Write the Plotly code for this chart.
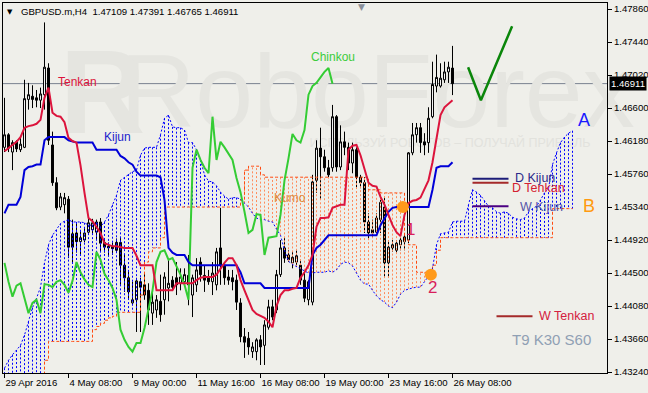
import plotly.graph_objects as go

# ---------------- data ----------------
bars = list(range(113))
open_ = [1.4610, 1.4626, 1.4604, 1.4617, 1.4607, 1.4610, 1.4671, 1.4675, 1.4673, 1.4670,
         1.4677, 1.4711, 1.4613, 1.4565, 1.4534, 1.4537, 1.4544, 1.4500, 1.4501, 1.4490,
         1.4492, 1.4502, 1.4505, 1.4502, 1.4515, 1.4489, 1.4484, 1.4484, 1.4489, 1.4489,
         1.4460, 1.4444, 1.4412, 1.4416, 1.4439, 1.4435, 1.4428, 1.4399, 1.4403, 1.4414,
         1.4416, 1.4431, 1.4441, 1.4444, 1.4437, 1.4439, 1.4447, 1.4422, 1.4435, 1.4464,
         1.4447, 1.4444, 1.4439, 1.4435, 1.4482, 1.4460, 1.4445, 1.4444, 1.4441, 1.4412,
         1.4369, 1.4367, 1.4350, 1.4350, 1.4365, 1.4358, 1.4381, 1.4407, 1.4403, 1.4448,
         1.4482, 1.4473, 1.4463, 1.4464, 1.4460, 1.4441, 1.4416, 1.4413, 1.4568, 1.4609,
         1.4598, 1.4584, 1.4584, 1.4649, 1.4585, 1.4617, 1.4610, 1.4590, 1.4607, 1.4572,
         1.4565, 1.4515, 1.4505, 1.4502, 1.4518, 1.4534, 1.4463, 1.4482, 1.4479, 1.4486,
         1.4490, 1.4492, 1.4603, 1.4626, 1.4635, 1.4617, 1.4616, 1.4649, 1.4688, 1.4688,
         1.4696, 1.4706, 1.47109]
high = [1.4673, 1.4628, 1.4619, 1.4619, 1.4623, 1.4696, 1.4692, 1.4689, 1.4683, 1.4686,
        1.4769, 1.4717, 1.4630, 1.4572, 1.4552, 1.4552, 1.4548, 1.4518, 1.4515, 1.4505,
        1.4507, 1.4520, 1.4519, 1.4518, 1.4520, 1.4493, 1.4489, 1.4489, 1.4494, 1.4496,
        1.4473, 1.4454, 1.4439, 1.4444, 1.4444, 1.4450, 1.4437, 1.4428, 1.4422, 1.4448,
        1.4451, 1.4467, 1.4446, 1.4464, 1.4456, 1.4456, 1.4473, 1.4448, 1.4469, 1.4470,
        1.4460, 1.4454, 1.4464, 1.4482, 1.4533, 1.4464, 1.4454, 1.4454, 1.4448, 1.4418,
        1.4380, 1.4375, 1.4362, 1.4367, 1.4371, 1.4390, 1.4416, 1.4416, 1.4454, 1.4492,
        1.4495, 1.4479, 1.4477, 1.4479, 1.4467, 1.4451, 1.4441, 1.4575, 1.4619, 1.4635,
        1.4607, 1.4594, 1.4664, 1.4651, 1.4638, 1.4630, 1.4616, 1.4616, 1.4610, 1.4575,
        1.4572, 1.4526, 1.4518, 1.4526, 1.4543, 1.4547, 1.4492, 1.4492, 1.4492, 1.4495,
        1.4501, 1.4604, 1.4641, 1.4641, 1.4641, 1.4628, 1.4661, 1.4719, 1.4728, 1.4717,
        1.4719, 1.4719, 1.47391]
low = [1.4604, 1.4604, 1.4581, 1.4604, 1.4604, 1.4609, 1.4658, 1.4660, 1.4661, 1.4660,
       1.4658, 1.4613, 1.4561, 1.4530, 1.4530, 1.4526, 1.4469, 1.4463, 1.4476, 1.4473,
       1.4489, 1.4500, 1.4500, 1.4492, 1.4477, 1.4476, 1.4473, 1.4473, 1.4477, 1.4435,
       1.4426, 1.4416, 1.4409, 1.4375, 1.4375, 1.4416, 1.4384, 1.4384, 1.4393, 1.4388,
       1.4397, 1.4414, 1.4428, 1.4422, 1.4428, 1.4435, 1.4409, 1.4394, 1.4426, 1.4439,
       1.4426, 1.4435, 1.4422, 1.4428, 1.4435, 1.4435, 1.4435, 1.4428, 1.4403, 1.4362,
       1.4342, 1.4346, 1.4342, 1.4339, 1.4333, 1.4333, 1.4378, 1.4390, 1.4399, 1.4445,
       1.4463, 1.4464, 1.4456, 1.4460, 1.4435, 1.4413, 1.4409, 1.4409, 1.4552, 1.4543,
       1.4579, 1.4572, 1.4579, 1.4579, 1.4581, 1.4600, 1.4581, 1.4577, 1.4559, 1.4558,
       1.4501, 1.4492, 1.4496, 1.4501, 1.4501, 1.4445, 1.4445, 1.4477, 1.4476, 1.4479,
       1.4479, 1.4488, 1.4600, 1.4616, 1.4603, 1.4600, 1.4603, 1.4647, 1.4680, 1.4686,
       1.4692, 1.4692, 1.46765]
close = [1.4626, 1.4609, 1.4616, 1.4608, 1.4614, 1.4672, 1.4677, 1.4671, 1.4670, 1.4678,
         1.4712, 1.4619, 1.4565, 1.4533, 1.4547, 1.4546, 1.4483, 1.4483, 1.4490, 1.4495,
         1.4501, 1.4514, 1.4514, 1.4515, 1.4488, 1.4483, 1.4482, 1.4481, 1.4479, 1.4460,
         1.4444, 1.4426, 1.4416, 1.4440, 1.4432, 1.4422, 1.4403, 1.4413, 1.4416, 1.4397,
         1.4445, 1.4437, 1.4432, 1.4435, 1.4445, 1.4448, 1.4435, 1.4444, 1.4454, 1.4448,
         1.4441, 1.4439, 1.4450, 1.4477, 1.4460, 1.4444, 1.4441, 1.4439, 1.4413, 1.4369,
         1.4362, 1.4356, 1.4356, 1.4365, 1.4356, 1.4384, 1.4407, 1.4394, 1.4448, 1.4482,
         1.4469, 1.4467, 1.4470, 1.4472, 1.4441, 1.4418, 1.4439, 1.4566, 1.4609, 1.4598,
         1.4584, 1.4575, 1.4649, 1.4585, 1.4617, 1.4610, 1.4590, 1.4607, 1.4572, 1.4565,
         1.4515, 1.4501, 1.4501, 1.4520, 1.4540, 1.4463, 1.4483, 1.4486, 1.4488, 1.4492,
         1.4496, 1.4603, 1.4626, 1.4635, 1.4616, 1.4613, 1.4647, 1.4690, 1.4699, 1.4698,
         1.4706, 1.4712, 1.46911]

tenkan = [1.4605, 1.4609, 1.4612, 1.4617, 1.4623, 1.4635, 1.4637, 1.4638, 1.4640, 1.4645,
          1.4673, 1.4686, 1.4654, 1.4650, 1.4649, 1.4642, 1.4622, 1.4618, 1.4616, 1.4587,
          1.4552, 1.4520, 1.4516, 1.4509, 1.4501, 1.4488, 1.4486, 1.4484, 1.4484, 1.4483,
          1.4482, 1.4482, 1.4482, 1.4472, 1.4460, 1.4460, 1.4460, 1.4460, 1.4428, 1.4428,
          1.4428, 1.4428, 1.4428, 1.4437, 1.4437, 1.4437, 1.4437, 1.4437, 1.4441, 1.4444,
          1.4445, 1.4445, 1.4445, 1.4448, 1.4456, 1.4463, 1.4469, 1.4469, 1.4460, 1.4441,
          1.4428, 1.4416, 1.4403, 1.4398, 1.4395, 1.4393, 1.4388, 1.4381, 1.4408, 1.4422,
          1.4428, 1.4428, 1.4430, 1.4431, 1.4444, 1.4451, 1.4460, 1.4473, 1.4509, 1.4520,
          1.4520, 1.4521, 1.4533, 1.4535, 1.4537, 1.4537, 1.4607, 1.4612, 1.4613, 1.4600,
          1.4581, 1.4565, 1.4561, 1.4560, 1.4547, 1.4537, 1.4524, 1.4511, 1.4502, 1.4497,
          1.4524, 1.4539, 1.4542, 1.4543, 1.4546, 1.4556, 1.4568, 1.4591, 1.4619, 1.4651,
          1.4661, 1.4666, 1.4670]
kijun = [1.4526, 1.4537, 1.4537, 1.4537, 1.4547, 1.4581, 1.4585, 1.4586, 1.4588, 1.4588,
         1.4619, 1.4623, 1.4623, 1.4623, 1.4623, 1.4623, 1.4619, 1.4617, 1.4616, 1.4616,
         1.4616, 1.4616, 1.4616, 1.4607, 1.4607, 1.4607, 1.4607, 1.4607, 1.4607, 1.4599,
         1.4596, 1.4591, 1.4588, 1.4579, 1.4574, 1.4574, 1.4574, 1.4574, 1.4574, 1.4572,
         1.4543, 1.4482, 1.4476, 1.4473, 1.4473, 1.4473, 1.4464, 1.4460, 1.4460, 1.4460,
         1.4460, 1.4460, 1.4460, 1.4460, 1.4460, 1.4460, 1.4460, 1.4460, 1.4460, 1.4451,
         1.4437, 1.4437, 1.4437, 1.4437, 1.4437, 1.4431, 1.4431, 1.4431, 1.4431, 1.4431,
         1.4431, 1.4431, 1.4431, 1.4431, 1.4431, 1.4431, 1.4431, 1.4473, 1.4482, 1.4486,
         1.4492, 1.4498, 1.4498, 1.4498, 1.4498, 1.4498, 1.4498, 1.4498, 1.4498, 1.4498,
         1.4498, 1.4498, 1.4498, 1.4498, 1.4511, 1.4520, 1.4528, 1.4533, 1.4534, 1.4534,
         1.4534, 1.4534, 1.4534, 1.4534, 1.4534, 1.4534, 1.4534, 1.4556, 1.4584, 1.4586,
         1.4586, 1.4586, 1.4591]
# Chikou span: plotted 30 bars back (bars 0..82)
chikou = [1.4463, 1.4439, 1.4420, 1.4434, 1.4437, 1.4416, 1.4399, 1.4412, 1.4416, 1.4399,
          1.4436, 1.4435, 1.4432, 1.4439, 1.4441, 1.4435, 1.4425, 1.4440, 1.4464, 1.4451,
          1.4442, 1.4435, 1.4432, 1.4477, 1.4467, 1.4449, 1.4441, 1.4431, 1.4416, 1.4378,
          1.4365, 1.4356, 1.4350, 1.4361, 1.4361, 1.4380, 1.4403, 1.4428, 1.4464, 1.4477,
          1.4479, 1.4467, 1.4469, 1.4459, 1.4448, 1.4435, 1.4416, 1.4584, 1.4607, 1.4594,
          1.4584, 1.4577, 1.4649, 1.4594, 1.4617, 1.4610, 1.4602, 1.4594, 1.4571, 1.4553,
          1.4528, 1.4501, 1.4505, 1.4525, 1.4524, 1.4473, 1.4495, 1.4496, 1.4497, 1.4524,
          1.4568, 1.4596, 1.4627, 1.4619, 1.4616, 1.4632, 1.4677, 1.4688, 1.4692, 1.4699,
          1.4706, 1.4711, 1.4691]
# Senkou spans A and B: bars 0..142 (30 bars ahead of the last candle)
senkou_a = [1.4329, 1.4339, 1.4346, 1.4352, 1.4358, 1.4371, 1.4388, 1.4406, 1.4418, 1.4432,
            1.4463, 1.4486, 1.4498, 1.4505, 1.4513, 1.4516, 1.4518, 1.4515, 1.4515, 1.4515,
            1.4514, 1.4511, 1.4511, 1.4514, 1.4509, 1.4515, 1.4524, 1.4537, 1.4549, 1.4568,
            1.4572, 1.4576, 1.4579, 1.4581, 1.4600, 1.4609, 1.4610, 1.4610, 1.4610, 1.4626,
            1.4647, 1.4651, 1.4636, 1.4635, 1.4635, 1.4632, 1.4616, 1.4616, 1.4607, 1.4594,
            1.4575, 1.4567, 1.4566, 1.4561, 1.4553, 1.4548, 1.4544, 1.4546, 1.4546, 1.4544,
            1.4539, 1.4534, 1.4526, 1.4520, 1.4518, 1.4518, 1.4516, 1.4515, 1.4506, 1.4498,
            1.4479, 1.4465, 1.4461, 1.4458, 1.4455, 1.4453, 1.4450, 1.4450, 1.4451, 1.4451,
            1.4451, 1.4453, 1.4451, 1.4454, 1.4461, 1.4464, 1.4463, 1.4459, 1.4450, 1.4441,
            1.4436, 1.4436, 1.4428, 1.4421, 1.4416, 1.4413, 1.4408, 1.4406, 1.4413, 1.4423,
            1.4428, 1.4430, 1.4431, 1.4432, 1.4432, 1.4439, 1.4446, 1.4456, 1.4486, 1.4500,
            1.4501, 1.4502, 1.4515, 1.4516, 1.4516, 1.4516, 1.4537, 1.4556, 1.4553, 1.4549,
            1.4542, 1.4535, 1.4533, 1.4528, 1.4526, 1.4528, 1.4526, 1.4521, 1.4519, 1.4518,
            1.4520, 1.4528, 1.4532, 1.4535, 1.4543, 1.4552, 1.4558, 1.4588, 1.4603, 1.4616,
            1.4623, 1.4628, 1.4631]
senkou_b = [1.4308, 1.4308, 1.4308, 1.4308, 1.4308, 1.4308, 1.4308, 1.4308, 1.4308, 1.4308,
            1.4339, 1.4363, 1.4363, 1.4363, 1.4363, 1.4363, 1.4363, 1.4363, 1.4363, 1.4363,
            1.4363, 1.4363, 1.4378, 1.4382, 1.4386, 1.4390, 1.4393, 1.4395, 1.4400, 1.4400,
            1.4400, 1.4400, 1.4400, 1.4400, 1.4422, 1.4464, 1.4477, 1.4482, 1.4482, 1.4495,
            1.4534, 1.4534, 1.4534, 1.4534, 1.4534, 1.4534, 1.4534, 1.4534, 1.4534, 1.4534,
            1.4534, 1.4534, 1.4534, 1.4534, 1.4534, 1.4534, 1.4534, 1.4534, 1.4534, 1.4543,
            1.4581, 1.4586, 1.4586, 1.4586, 1.4575, 1.4572, 1.4572, 1.4572, 1.4572, 1.4572,
            1.4572, 1.4572, 1.4572, 1.4572, 1.4572, 1.4572, 1.4572, 1.4572, 1.4572, 1.4572,
            1.4572, 1.4572, 1.4572, 1.4572, 1.4572, 1.4572, 1.4572, 1.4572, 1.4572, 1.4572,
            1.4572, 1.4556, 1.4556, 1.4556, 1.4552, 1.4552, 1.4552, 1.4552, 1.4552, 1.4552,
            1.4492, 1.4486, 1.4486, 1.4451, 1.4451, 1.4451, 1.4451, 1.4460, 1.4479, 1.4495,
            1.4495, 1.4495, 1.4495, 1.4495, 1.4495, 1.4495, 1.4495, 1.4495, 1.4495, 1.4495,
            1.4495, 1.4495, 1.4495, 1.4495, 1.4495, 1.4495, 1.4495, 1.4495, 1.4495, 1.4495,
            1.4495, 1.4495, 1.4495, 1.4495, 1.4495, 1.4495, 1.4495, 1.4532, 1.4532, 1.4532,
            1.4532, 1.4532, 1.4532]

tick_bars = [0, 16, 32, 48, 64, 80, 96, 112]
tick_labels = ["29 Apr 2016", "4 May 08:00", "9 May 00:00", "11 May 16:00",
               "16 May 08:00", "19 May 00:00", "23 May 16:00", "26 May 08:00"]
price_ticks = [1.4786, 1.4744, 1.4702, 1.4660, 1.4618, 1.4576,
               1.4534, 1.4492, 1.4450, 1.4408, 1.4366, 1.4324]
last_price = 1.46911
title_text = "GBPUSD.m,H4  1.47109 1.47391 1.46765 1.46911"

# higher-timeframe levels: name, price, first bar, last bar
level_names = ["D Kijun", "D Tenkan", "W Kijun", "W Tenkan"]
level_prices = [1.4570, 1.4565, 1.4535, 1.4395]
level_start = [117, 117, 117, 123]
level_end = [126, 126, 126, 132]
level_line_colors = ["#1c1c78", "#a52a2a", "#4b0082", "#a52a2a"]
level_text_colors = ["#2a2a8a", "#d42030", "#5555a8", "#d42040"]
level_text_bar = [127.2, 126.4, 128.4, 133.1]
level_text_price = [1.4571, 1.4558, 1.4534, 1.4395]

# forecast check mark and signal points
check_bars = [115.9, 119.1, 126.9]
check_prices = [1.4712, 1.4670, 1.4764]
signal_bars = [99.6, 106.6]
signal_prices = [1.4534, 1.4448]

# ---------------- figure ----------------
BG = "#efefea"
FONT = "Liberation Sans, Arial, sans-serif"
fig = go.Figure()

# Kumo: vertical dotted hatch, one line per bar
bx, by, ox, oy = [], [], [], []
for i, (a, b) in enumerate(zip(senkou_a, senkou_b)):
    if a >= b:
        bx += [i, i, None]; by += [a, b, None]
    else:
        ox += [i, i, None]; oy += [a, b, None]
fig.add_trace(go.Scatter(x=bx, y=by, mode="lines", hoverinfo="skip",
                         line=dict(color="#0000ff", width=1, dash="2px,2px")))
fig.add_trace(go.Scatter(x=ox, y=oy, mode="lines", hoverinfo="skip",
                         line=dict(color="#ff8c5c", width=1, dash="2px,2px")))
cloud_x = list(range(len(senkou_a)))
fig.add_trace(go.Scatter(x=cloud_x, y=senkou_b, mode="lines", line_shape="hv",
                         line=dict(color="#ff4a10", width=1, dash="3px,2px")))
fig.add_trace(go.Scatter(x=cloud_x, y=senkou_a, mode="lines",
                         line=dict(color="#0000ff", width=1, dash="2px,2px")))

# candles
fig.add_trace(go.Candlestick(
    x=bars, open=open_, high=high, low=low, close=close, whiskerwidth=0,
    increasing=dict(fillcolor="#ffffff", line=dict(color="#000000", width=1)),
    decreasing=dict(fillcolor="#000000", line=dict(color="#000000", width=1)),
    hoverinfo="skip"))

# Ichimoku lines
fig.add_trace(go.Scatter(x=list(range(len(chikou))), y=chikou, mode="lines",
                         line=dict(color="#34cc34", width=2)))
fig.add_trace(go.Scatter(x=bars, y=kijun, mode="lines",
                         line=dict(color="#0000d8", width=2)))
fig.add_trace(go.Scatter(x=bars, y=tenkan, mode="lines",
                         line=dict(color="#dc143c", width=2)))

# higher timeframe levels
for name, p, s, e, lc in zip(level_names, level_prices, level_start, level_end, level_line_colors):
    fig.add_trace(go.Scatter(x=[s, e], y=[p, p], mode="lines",
                             line=dict(color=lc, width=2)))

# check mark
fig.add_trace(go.Scatter(x=check_bars, y=check_prices, mode="lines",
                         line=dict(color="#0a860a", width=2.5)))
# signal circles
fig.add_trace(go.Scatter(x=signal_bars, y=signal_prices, mode="markers",
                         marker=dict(color="#ff9a1a", size=12, line=dict(width=0))))

ann = []
def label(x, y, text, color, size=12, xanchor="left", ref="x"):
    ann.append(dict(x=x, y=y, xref=ref, yref="y", text=text, showarrow=False,
                    xanchor=xanchor, yanchor="middle",
                    font=dict(family=FONT, size=size, color=color)))

label(12.9, 1.4693, "Tenkan", "#dc143c")
label(24.4, 1.4623, "Kijun", "#2222cc")
label(76.1, 1.4725, "Chinkou", "#3ccc3c")
label(66.9, 1.4545, "Kumo", "#e08a3c")
label(144.9, 1.4645, "A", "#1a1aff", 18, "center")
label(146.1, 1.4535, "B", "#ff9a10", 18, "center")
label(101.6, 1.4505, "1", "#d81e5a", 17, "center")
label(106.9, 1.4432, "2", "#d81e5a", 17, "center")
label(136.75, 1.4366, "T9 K30 S60", "#8fa0b4", 15, "center")
for name, tx, ty, tc in zip(level_names, level_text_bar, level_text_price, level_text_colors):
    label(tx, ty, name, tc, 12.5)

# title
ann.append(dict(x=0.0265, y=0.9757, xref="paper", yref="paper", text=title_text,
                showarrow=False, xanchor="left", yanchor="middle",
                font=dict(family=FONT, size=9.6, color="#000000")))
ann.append(dict(x=0.0115, y=0.9757, xref="paper", yref="paper", text="▼",
                showarrow=False, xanchor="center", yanchor="middle",
                font=dict(family="DejaVu Sans", size=7, color="#000000")))
ann.append(dict(x=0.593, y=0.99, xref="paper", yref="paper", text="▼",
                showarrow=False, xanchor="center", yanchor="middle",
                font=dict(family="DejaVu Sans", size=9, color="#8a8f99")))
# current price tag
ann.append(dict(x=1.0, y=last_price, xref="paper", yref="y", text="1.46911",
                showarrow=False, xanchor="left", yanchor="middle", xshift=2,
                bgcolor="#000000", borderpad=1,
                font=dict(family=FONT, size=9.6, color="#ffffff")))

shapes = [
    dict(type="line", xref="paper", yref="y", x0=0, x1=1, y0=last_price, y1=last_price,
         line=dict(color="#7a8290", width=1), layer="below"),
    # watermark
    dict(type="rect", xref="paper", yref="paper", x0=0.24, x1=1.0, y0=0.66, y1=0.92,
         line=dict(width=0), fillcolor="rgba(0,0,0,0)", layer="below",
         label=dict(text="RoboForex", textposition="middle center",
                    font=dict(family="Liberation Sans, Arial", size=104, color="#e5e5e0"))),
    dict(type="rect", xref="paper", yref="paper", x0=0.09, x1=0.24, y0=0.66, y1=0.92,
         line=dict(width=0), fillcolor="rgba(0,0,0,0)", layer="below",
         label=dict(text="<b>R</b>", textposition="middle center",
                    font=dict(family="Liberation Sans, Arial", size=118, color="#e5e5e0"))),
    dict(type="rect", xref="paper", yref="paper", x0=0.50, x1=0.98, y0=0.60, y1=0.65,
         line=dict(width=0), fillcolor="rgba(0,0,0,0)", layer="below",
         label=dict(text="ИСПОЛЬЗУЙ РОБОТОВ – ПОЛУЧАЙ ПРИБЫЛЬ", textposition="middle center",
                    font=dict(family="Liberation Sans, Arial", size=12.5, color="#e2e2dd"))),
]

fig.update_layout(
    width=648, height=393,
    margin=dict(l=3, r=41, t=3, b=20, autoexpand=False),
    paper_bgcolor=BG, plot_bgcolor=BG,
    showlegend=False,
    annotations=ann, shapes=shapes,
    font=dict(family=FONT, size=9.6, color="#000000"),
    xaxis=dict(range=[-0.375, 150.625], showgrid=False, zeroline=False,
               rangeslider=dict(visible=False), automargin=False,
               tickmode="array", tickvals=tick_bars, ticktext=tick_labels,
               tickangle=0,
               ticks="outside", ticklen=4, tickcolor="#000000",
               ticklabelposition="outside right",
               tickfont=dict(family=FONT, size=9.6, color="#000000"),
               showline=True, linecolor="#000000", linewidth=1, mirror=True),
    yaxis=dict(range=[1.43228, 1.47937], side="right", showgrid=False, zeroline=False,
               automargin=False,
               tickmode="array", tickvals=price_ticks,
               ticktext=[f"{v:.5f}" for v in price_ticks],
               ticks="outside", ticklen=4, tickcolor="#000000",
               tickfont=dict(family=FONT, size=9.6, color="#000000"),
               showline=True, linecolor="#000000", linewidth=1, mirror=True),
)

fig.write_html("out.html")
